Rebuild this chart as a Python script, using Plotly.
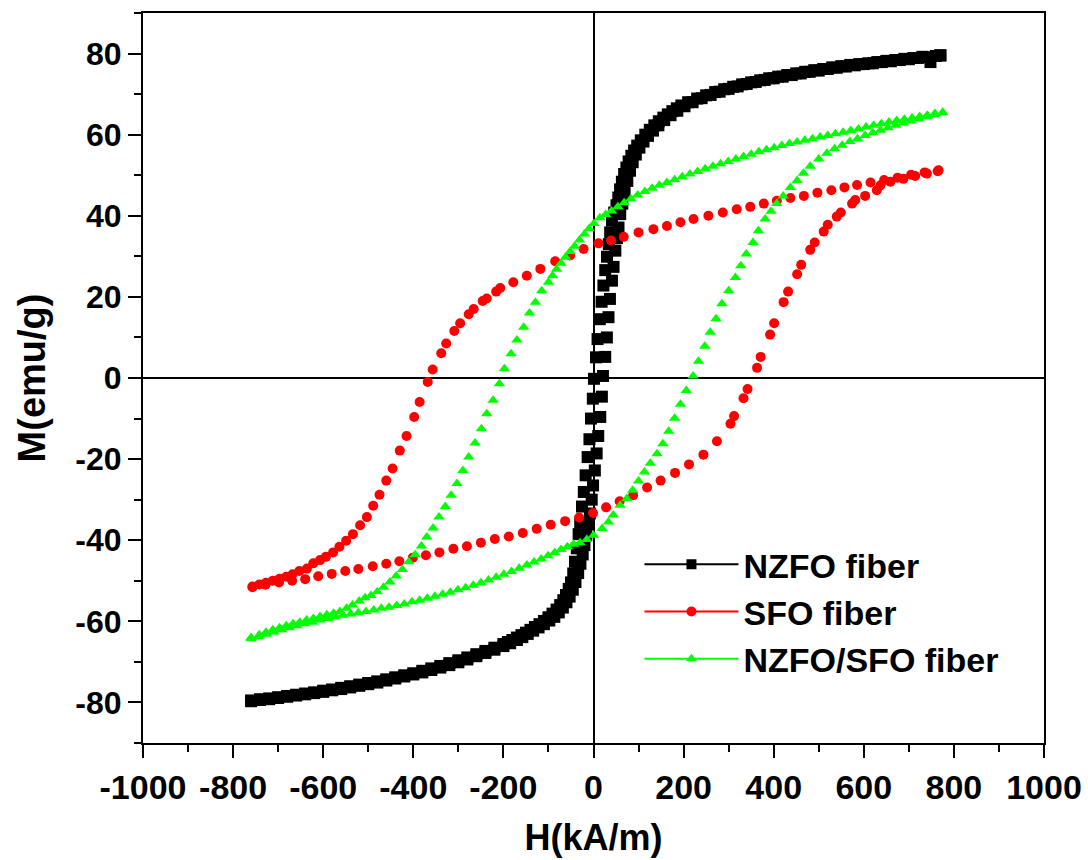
import plotly.graph_objects as go

# ---------------- data (H in kA/m, M in emu/g) ----------------
nzfo_down = [
    (770, 79.6), (748, 77.9), (730, 79.2), (710, 78.9), (690, 78.7), (670, 78.4), (650, 78.2),
    (630, 77.9), (610, 77.6), (590, 77.4), (570, 77.2), (550, 76.9), (530, 76.6), (510, 76.2),
    (490, 75.9), (470, 75.5), (450, 75.1), (430, 74.7), (410, 74.3), (390, 73.9), (370, 73.4),
    (350, 72.9), (330, 72.4), (310, 71.8), (290, 71.2), (270, 70.5), (250, 69.7), (230, 68.9),
    (210, 68.0), (195, 67.2), (185, 66.5), (175, 65.8), (165, 65.0), (155, 64.2), (145, 63.3),
    (135, 62.3), (125, 61.2), (115, 60.0), (105, 58.6), (97, 57.3), (90, 56.1), (84, 54.8),
    (78, 53.4), (73, 51.9), (68, 50.3), (63, 48.4), (59, 46.5), (55, 44.5), (51, 42.6),
    (46, 40.8), (41, 38.8), (37, 35.9), (34, 33.0), (30, 29.9), (26, 26.6), (22, 22.8),
    (18, 18.8), (14, 14.5), (9, 9.6), (5.5, 5.1), (1, -0.2), (-1.5, -5.1), (-5.5, -10.0),
    (-9, -15.1), (-13, -19.5), (-17.5, -24.0), (-21.5, -28.1), (-25.5, -31.7), (-29.5, -35.7),
    (-33, -38.5), (-37, -42.0), (-41, -45.3), (-45, -48.2), (-50, -50.4), (-55, -52.0),
    (-61, -53.5), (-67, -54.8), (-74, -56.0), (-82, -57.1), (-91, -58.1), (-100, -59.0),
    (-110, -59.9), (-120, -60.7), (-130, -61.4), (-140, -62.1), (-150, -62.8), (-160, -63.4),
    (-170, -64.0), (-180, -64.6), (-190, -65.1), (-200, -65.6), (-220, -66.5), (-240, -67.3),
    (-260, -68.1), (-280, -68.9), (-300, -69.6), (-320, -70.3), (-340, -71.0), (-360, -71.6),
    (-380, -72.2), (-400, -72.8), (-420, -73.3), (-440, -73.8), (-460, -74.3), (-480, -74.8),
    (-500, -75.2), (-520, -75.6), (-540, -76.0), (-560, -76.4), (-580, -76.8), (-600, -77.1),
    (-620, -77.5), (-640, -77.8), (-660, -78.1), (-680, -78.4), (-700, -78.7), (-720, -79.0),
    (-740, -79.2), (-760, -79.5),
]
nzfo_up = [
    (-760, -79.7), (-740, -79.4), (-720, -79.2), (-700, -78.9), (-680, -78.6), (-660, -78.3),
    (-640, -78.0), (-620, -77.7), (-600, -77.4), (-580, -77.0), (-560, -76.7), (-540, -76.3),
    (-520, -75.9), (-500, -75.5), (-480, -75.1), (-460, -74.6), (-440, -74.1), (-420, -73.6),
    (-400, -73.1), (-380, -72.6), (-360, -72.0), (-340, -71.4), (-320, -70.8), (-300, -70.1),
    (-280, -69.4), (-260, -68.6), (-240, -67.8), (-220, -67.0), (-200, -66.1), (-185, -65.4),
    (-170, -64.6), (-158, -63.9), (-146, -63.1), (-134, -62.3), (-122, -61.5), (-110, -60.7),
    (-98, -59.8), (-87, -58.9), (-77, -57.8), (-68, -56.6), (-60, -55.3), (-53, -53.9),
    (-46, -52.2), (-40, -50.3), (-34, -48.1), (-29, -45.8), (-24, -43.5), (-20, -41.2),
    (-16, -38.7), (-12, -36.1), (-8, -33.4), (-4, -30.0), (-1, -26.5), (3, -22.8), (7, -18.6),
    (10.5, -14.3), (15, -9.6), (18.6, -4.6), (21, 0.5), (26, 5.2), (29.7, 10.0), (33.3, 15.0),
    (36.5, 19.5), (41, 24.0), (44.5, 27.4), (48.5, 31.4), (52, 34.5), (55.5, 37.1), (59.3, 40.4),
    (64, 43.0), (69, 45.8), (75, 48.6), (81, 51.1), (87, 53.2), (94, 55.1), (102, 56.8),
    (111, 58.3), (121, 59.7), (132, 61.0), (144, 62.3), (157, 63.6), (171, 64.8), (186, 65.9),
    (202, 67.0), (220, 68.0), (240, 69.0), (260, 69.8), (280, 70.6), (300, 71.3), (320, 71.9),
    (340, 72.5), (360, 73.0), (380, 73.5), (400, 73.9), (420, 74.3), (440, 74.7), (460, 75.1),
    (480, 75.5), (500, 75.8), (520, 76.2), (540, 76.5), (560, 76.8), (580, 77.1), (600, 77.4),
    (620, 77.6), (640, 77.9), (660, 78.1), (680, 78.4), (700, 78.6), (720, 78.9), (740, 79.1),
    (760, 79.4), (770, 79.5),
]

sfo_down = [
    (766, 51.2), (735, 50.7), (705, 50.1), (675, 49.4), (645, 48.8), (615, 48.2), (585, 47.6),
    (557, 47.0), (528, 46.3), (497, 45.7), (467, 44.9), (437, 44.4), (407, 43.7), (378, 43.0),
    (348, 42.2), (318, 41.6), (287, 40.8), (255, 40.0), (222, 39.2), (193, 38.4), (163, 37.5),
    (133, 36.7), (100, 35.9), (67, 34.8), (39, 33.9), (11, 33.2), (-22, 31.8), (-52, 30.2),
    (-85, 28.8), (-118, 26.9), (-148, 25.2), (-178, 23.6), (-207, 22.2), (-216, 21.3),
    (-237, 19.6), (-246, 19.0), (-266, 17.0), (-277, 15.7), (-296, 13.5), (-309, 11.6),
    (-327, 8.5), (-338, 6.1), (-357, 2.1), (-368, -1.0), (-386, -5.9), (-398, -9.6),
    (-415, -14.3), (-430, -17.9), (-446, -22.3), (-460, -25.3), (-475, -28.8), (-489, -31.5),
    (-503, -34.3), (-518, -36.3), (-534, -38.5), (-549, -40.1), (-564, -41.6), (-578, -43.0),
    (-594, -44.1), (-607, -44.9), (-622, -45.7), (-636, -47.0), (-653, -47.6), (-668, -48.4),
    (-682, -49.0), (-697, -49.5), (-712, -50.0), (-727, -50.5), (-742, -50.9), (-757, -51.4),
]
sfo_up = [
    (-757, -51.6), (-728, -51.0), (-698, -50.4), (-669, -50.0), (-640, -49.6), (-611, -48.9),
    (-581, -48.3), (-551, -47.6), (-522, -47.1), (-490, -46.4), (-460, -45.8), (-431, -45.2),
    (-401, -44.3), (-372, -43.7), (-342, -43.0), (-311, -42.1), (-281, -41.5), (-250, -40.6),
    (-219, -39.7), (-188, -39.1), (-157, -38.2), (-126, -37.2), (-95, -36.2), (-63, -35.3),
    (-32, -34.4), (-1, -33.3), (28, -31.9), (58, -30.4), (88, -28.9), (119, -27.0), (149, -25.3),
    (181, -23.4), (212, -21.3), (244, -18.9), (274, -15.6), (304, -11.3), (312, -9.4),
    (333, -5.0), (342, -2.7), (363, 2.5), (371, 5.2), (392, 10.7), (401, 13.5), (422, 18.7),
    (432, 21.3), (452, 25.6), (461, 27.9), (481, 31.6), (491, 33.4), (511, 36.1), (520, 37.8),
    (540, 39.8), (549, 40.8), (574, 43.0), (581, 43.9), (603, 44.9), (629, 46.3), (637, 47.5),
    (659, 48.4), (688, 49.1), (714, 49.8), (740, 50.4), (764, 51.0),
]

mix_down = [
    (775, 65.5), (758, 65.2), (741, 64.8), (724, 64.5), (707, 64.1), (690, 63.8), (673, 63.5),
    (656, 63.1), (639, 62.7), (622, 62.3), (605, 61.9), (588, 61.4), (571, 61.0), (554, 60.6),
    (537, 60.2), (520, 59.8), (503, 59.4), (486, 59.0), (469, 58.6), (452, 58.2), (435, 57.8),
    (418, 57.3), (401, 56.8), (384, 56.3), (367, 55.8), (350, 55.2), (333, 54.6), (316, 54.0),
    (299, 53.4), (282, 52.8), (265, 52.2), (248, 51.6), (231, 50.9), (214, 50.3), (197, 49.6),
    (180, 48.9), (163, 48.2), (146, 47.5), (130, 46.8), (114, 46.0), (98, 45.1), (83, 44.2),
    (68, 43.2), (54, 42.2), (40, 41.2), (27, 40.3), (14, 39.5), (1, 38.1), (-10, 36.8),
    (-20, 35.5), (-31, 34.0), (-42, 32.5), (-52, 31.2), (-62, 29.8), (-72, 28.3), (-82, 26.8),
    (-91, 25.2), (-100, 23.6), (-115, 21.5), (-129, 18.7), (-142, 16.0), (-155, 12.5),
    (-170, 9.4), (-183, 6.0), (-198, 2.3), (-209, -1.4), (-223, -5.5), (-237, -8.8),
    (-249, -12.5), (-263, -16.0), (-277, -19.5), (-290, -22.8), (-303, -26.0), (-316, -28.9),
    (-329, -31.7), (-343, -34.3), (-356, -37.0), (-370, -39.2), (-382, -41.4), (-396, -43.6),
    (-410, -45.3), (-424, -47.2), (-438, -48.8), (-452, -50.3), (-466, -51.6), (-480, -52.7),
    (-494, -53.6), (-507, -54.2), (-520, -55.0), (-535, -56.0), (-548, -56.8), (-563, -57.6),
    (-577, -58.0), (-592, -58.4), (-607, -58.8), (-622, -59.3), (-637, -59.7), (-652, -60.2),
    (-667, -60.6), (-682, -61.1), (-697, -61.6), (-712, -62.1), (-727, -62.7), (-742, -63.3),
    (-760, -64.0),
]
mix_up = [
    (-760, -64.3), (-743, -63.8), (-726, -63.2), (-709, -62.6), (-692, -62.1), (-675, -61.6),
    (-658, -61.1), (-641, -60.6), (-624, -60.2), (-607, -59.7), (-590, -59.3), (-573, -58.9),
    (-556, -58.5), (-539, -58.2), (-522, -57.9), (-505, -57.6), (-488, -57.2), (-471, -56.8),
    (-454, -56.5), (-437, -56.1), (-420, -55.7), (-403, -55.2), (-386, -54.8), (-369, -54.3),
    (-352, -53.8), (-335, -53.3), (-318, -52.8), (-301, -52.2), (-284, -51.7), (-267, -51.1),
    (-250, -50.5), (-233, -49.8), (-216, -49.1), (-199, -48.4), (-182, -47.7), (-165, -46.9),
    (-148, -46.1), (-132, -45.4), (-116, -44.6), (-101, -43.8), (-86, -43.0), (-72, -42.3),
    (-58, -41.6), (-44, -41.0), (-30, -40.6), (-15, -39.8), (0, -38.8), (19, -37.1),
    (33, -35.5), (44, -33.8), (59, -31.4), (74, -29.7), (87, -27.7), (100, -25.4), (113, -23.2),
    (126, -21.0), (141, -18.7), (154, -16.2), (167, -13.1), (180, -9.9), (193, -6.5),
    (206, -3.1), (221, 0.5), (233, 4.1), (247, 7.8), (259, 11.3), (272, 14.6), (285, 18.3),
    (300, 21.5), (315, 24.8), (327, 27.7), (339, 30.6), (354, 33.4), (366, 36.3), (381, 39.2),
    (394, 41.1), (407, 43.0), (421, 44.9), (437, 47.0), (452, 48.7), (466, 50.5), (481, 52.2),
    (500, 54.0), (518, 55.4), (535, 56.5), (552, 57.4), (569, 58.3), (586, 59.0), (603, 59.8),
    (620, 60.5), (637, 61.1), (654, 61.7), (671, 62.3), (688, 62.9), (705, 63.4), (722, 63.9),
    (739, 64.4), (756, 64.9), (775, 65.4),
]

series = [
    ("NZFO fiber", nzfo_down + nzfo_up, "#000000", "square", 12),
    ("SFO fiber", sfo_down + sfo_up, "#ff0000", "circle", 10),
    ("NZFO/SFO fiber", mix_down + mix_up, "#00ff00", "triangle-up", 10),
]

x_ticks = [-1000, -800, -600, -400, -200, 0, 200, 400, 600, 800, 1000]
x_tick_text = ["-1000", "-800", "-600", "-400", "-200", "0", "200", "400", "600", "800", "1000"]
y_ticks = [-80, -60, -40, -20, 0, 20, 40, 60, 80]
y_tick_text = ["-80", "-60", "-40", "-20", "0", "20", "40", "60", "80"]

FONT = "Liberation Sans, Arial, sans-serif"

fig = go.Figure()
for name, pts, color, sym, size in series:
    fig.add_trace(go.Scatter(
        x=[p[0] for p in pts], y=[p[1] for p in pts], mode="markers", name=name,
        marker=dict(symbol=sym, size=size, color=color, line=dict(width=0)),
        showlegend=False,
    ))
for name, pts, color, sym, size in series:
    fig.add_trace(go.Scatter(
        x=[None], y=[None], mode="lines+markers", name=name,
        line=dict(color=color, width=2),
        marker=dict(symbol=sym, size=10, color=color),
        showlegend=True,
    ))

axis_common = dict(
    showline=True, linecolor="black", linewidth=2, mirror=True,
    ticks="outside", ticklen=13, tickwidth=2, tickcolor="black",
    showgrid=False, zeroline=True, zerolinecolor="black", zerolinewidth=2,
)

fig.update_xaxes(
    range=[-1000, 1000], tickmode="array", tickvals=x_ticks, ticktext=x_tick_text,
    tickfont=dict(family=FONT, size=34, color="black", weight="bold"),
    minor=dict(dtick=100, ticklen=7, tickwidth=2, tickcolor="black", ticks="outside", showgrid=False),
    title=dict(text="H(kA/m)", font=dict(family=FONT, size=36, color="black", weight="bold"), standoff=20),
    **axis_common,
)
fig.update_yaxes(
    range=[-90, 90], tickmode="array", tickvals=y_ticks, ticktext=y_tick_text,
    tickfont=dict(family=FONT, size=32, color="black", weight="bold"),
    minor=dict(dtick=10, ticklen=7, tickwidth=2, tickcolor="black", ticks="outside", showgrid=False),
    title=dict(text="M(emu/g)", font=dict(family=FONT, size=38, color="black", weight="bold"), standoff=18),
    **axis_common,
)

fig.update_layout(
    width=1088, height=860,
    margin=dict(l=143, r=44, t=13, b=117, autoexpand=False),
    paper_bgcolor="white", plot_bgcolor="white",
    legend=dict(
        x=0.551, y=0.284, xanchor="left", yanchor="top",
        bgcolor="rgba(0,0,0,0)", borderwidth=0, itemwidth=94,
        font=dict(family=FONT, size=34, color="black", weight="bold"),
    ),
)

fig.write_html("out.html")
